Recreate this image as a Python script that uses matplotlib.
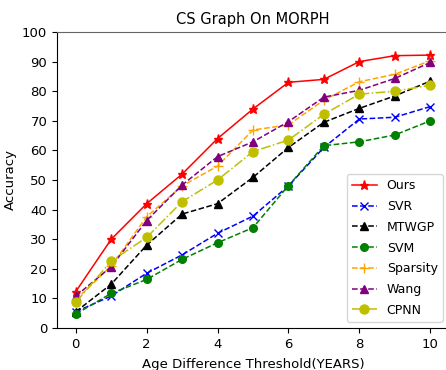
import matplotlib
matplotlib.use("Agg")
import matplotlib.pyplot as plt

x = list(range(11))
ours = [12.3, 30, 42, 52, 64, 74, 83, 84, 90, 92, 92.2]
svr = [5.5, 10.8, 18.5, 24.7, 32, 37.8, 48, 61, 70.6, 71.2, 74.8]
mtwgp = [5.5, 14.8, 28, 38.5, 42, 50.9, 61, 69.5, 74.2, 78.4, 83.4]
svm = [4.7, 11.7, 16.4, 23.2, 28.8, 33.9, 48.1, 61.6, 62.9, 65.2, 70]
sparsity = [9.5, 21, 37.6, 48, 54.7, 66.9, 68.6, 77, 83.2, 85.7, 90.3]
wang = [10.8, 20.7, 36.3, 48.3, 57.9, 62.9, 69.7, 78, 80.3, 84.3, 89.7]
cpnn = [8.7, 22.6, 30.6, 42.7, 50, 59.6, 63.5, 72.2, 79, 80, 82]

fig = plt.figure(figsize=(4.46, 3.70), dpi=100)
ax = fig.add_axes([57/446, 42/370, (449-57)/446, (328-32)/370])

lw = 1.1
ax.plot(x, ours, color='red', linestyle='-', lw=lw, marker='*', markersize=6.5, label='Ours')
ax.plot(x, svr, color='blue', linestyle='--', lw=lw, marker='x', markersize=6, label='SVR')
ax.plot(x, mtwgp, color='black', linestyle='--', lw=lw, marker='^', markersize=5.5, label='MTWGP')
ax.plot(x, svm, color='green', linestyle='--', lw=lw, marker='o', markersize=5.5, label='SVM')
ax.plot(x, sparsity, color='orange', linestyle='--', lw=lw, marker='+', markersize=7, label='Sparsity')
ax.plot(x, wang, color='purple', linestyle='--', lw=lw, marker='^', markersize=5.5, label='Wang')
ax.plot(x, cpnn, color='y', linestyle='-.', lw=lw, marker='o', markersize=6.5, label='CPNN')

ax.set_xlim(-0.53, 10.53)
ax.set_ylim(0, 100)
ax.set_xticks([0, 2, 4, 6, 8, 10])
ax.set_yticks(range(0, 101, 10))
ax.set_title('CS Graph On MORPH', fontsize=10.5)
ax.set_xlabel('Age Difference Threshold(YEARS)', fontsize=9.5, labelpad=5)
ax.set_ylabel('Accuracy', fontsize=9.5)
ax.tick_params(labelsize=9.5)
ax.spines['top'].set_color('#666666')
ax.legend(loc='lower right', fontsize=9, labelspacing=0.62)

fig.savefig('out.png', dpi=100)
